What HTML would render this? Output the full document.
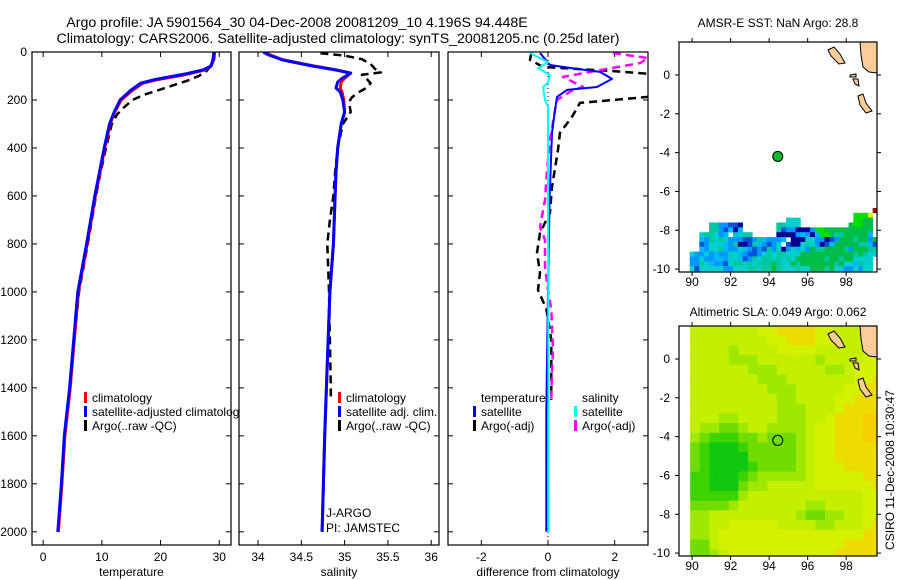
<!DOCTYPE html>
<html><head><meta charset="utf-8">
<style>
html,body{margin:0;padding:0;background:#fff;}
svg{display:block;font-family:"Liberation Sans",sans-serif;}
</style></head>
<body>
<svg id="fig" width="900" height="580" viewBox="0 0 900 580" xmlns="http://www.w3.org/2000/svg">
<text x="297" y="27" font-size="14.2" text-anchor="middle">Argo profile: JA 5901564_30 04-Dec-2008 20081209_10 4.196S 94.448E</text>
<text x="338" y="43" font-size="14.2" text-anchor="middle">Climatology: CARS2006. Satellite-adjusted climatology: synTS_20081205.nc (0.25d later)</text>
<text x="778" y="27" font-size="12" text-anchor="middle">AMSR-E SST: NaN Argo: 28.8</text>
<text x="778" y="316" font-size="12" text-anchor="middle">Altimetric SLA: 0.049 Argo: 0.062</text>
<text transform="translate(894,470) rotate(-90)" font-size="12" text-anchor="middle">CSIRO 11-Dec-2008 10:30:47</text>
<g id="g"></g>
</svg>
<script>
// ---- data ----
const climDepthT=[0,30,60,75,90,100,115,130,160,200,250,300,400,500,600,800,1000,1200,1400,1600,1800,2000];
const climT=[29.2,29.1,28.6,27.5,25,23,19.5,17,15.2,13.3,12.2,11.4,10.5,9.7,8.9,7.5,6.0,5.3,4.6,3.7,3.2,2.6];
const satT=[29.1,29.0,28.5,27.2,24.5,22.3,19,16.6,14.9,13.1,12.1,11.3,10.4,9.6,8.8,7.4,5.9,5.2,4.5,3.6,3.1,2.5];
const argoDepthT=[5,30,60,80,100,120,140,160,180,200,230,260,300,400,500,600,800,1000,1200,1400,1450];
const argoT=[29.0,28.9,28.5,27.8,26.5,24.5,22,19.5,17,15.2,13.8,12.6,11.7,10.7,9.8,9.0,7.6,6.1,5.3,4.6,4.4];
const climDepthS=[0,12,33,58,75,88,110,125,150,167,200,250,300,400,500,600,800,1000,1400,1600,2000];
const climS=[34.08,34.14,34.29,34.64,34.91,35.07,35.0,34.96,34.95,34.97,34.99,35.0,34.96,34.92,34.9,34.89,34.87,34.83,34.79,34.77,34.74];
const satS=[34.06,34.12,34.28,34.62,34.9,35.07,34.97,34.92,34.9,34.95,34.98,35.0,34.96,34.92,34.9,34.89,34.87,34.83,34.79,34.77,34.74];
const argoDepthS=[5,15,30,50,70,85,95,110,130,150,170,190,210,250,300,400,500,600,700,800,900,1000,1200,1400,1450];
const argoS=[34.72,35.0,35.2,35.3,35.35,35.42,35.2,35.25,35.3,35.25,35.15,35.08,35.05,35.07,34.98,34.92,34.89,34.87,34.83,34.8,34.81,34.82,34.83,34.84,34.84];
const dSatTDepth=[4,54,65,83,112,146,158,187,242,337,600,1000,1500,2000];
const dSatT=[-0.24,0.06,0.6,1.56,1.92,1.47,0.57,0.27,0.21,0.12,0.05,0.0,-0.05,-0.05];
const dArgoTDepth=[5,33,62,80,96,120,180,187,212,270,337,408,562,670,754,837,920,992,1070,1200,1450];
const dArgoT=[-0.5,-0.54,-0.15,2.0,3.5,4,4,3.0,0.96,0.72,0.36,0.3,0.12,0.06,-0.24,-0.33,-0.24,-0.3,-0.05,0.1,0.1];
const dSatSDepth=[4,42,67,96,129,146,200,229,500,2000];
const dSatS=[-0.54,0.0,-0.3,0.06,0,-0.15,-0.09,0,0,0.02];
const dArgoSDepth=[4,25,46,83,104,146,158,200,242,367,492,617,729,783,896,992,1075,1242,1325,1450];
const dArgoS=[1.95,3.0,2.77,1.26,0.45,1.05,0.75,0.27,0.21,0.06,-0.03,-0.09,-0.24,-0.09,-0.09,0,0.1,0.15,0.12,0.1];
const depthTicks=[0,200,400,600,800,1000,1200,1400,1600,1800,2000];
const tTicks=[0,10,20,30];
const sTicks=[34,34.5,35,35.5,36];
const dTicks=[-2,0,2];
const lonTicks=[90,92,94,96,98];
const latTicks=[0,-2,-4,-6,-8,-10];
const argoLon=94.448, argoLat=-4.196;
// SST grid: 0.25 deg, starting lon 89.875, lat -6.85 downward
const sstRows=[
"......................................r",
"..................................GGGy",
"....................ccc...........GGgg",
"....ttbbmmd.......ttccc..........gGGgg",
"....ttbmldl.......tmbbdddbGGgggggggggg",
"..cttcbl.lctt.....ddddblbdlGGgttgggggl",
"..lbtctcbbbmmbtlbbbl.dddccbbdmbgggtggbg",
"..mbccclbtddmtlbmbc.mddctcbdmlgggggttlm",
"..lbcctlbbclbmbmtbcdbclcbgttggggtbgggtt",
"cbbcblbbcclbmmbctcttcccgggggggggggtgtcc",
"bbcbbllbcclmbtcttctctcggggggtggtggcccc",
"bbtclbbmcttctctttgtccgtgggggggtgccltcc",
"cmcccccbbcccttcttgtccctccgggtgccbbcbcc"];
// SLA grid: 0.5 deg, starting lon 89.9, lat 1.7 downward; digits = level
const slaRows=[
"44444445566665544455","44444444556665544455","44443444455554444455","44443334444443444455",
"44444433344444334555","44444443334444444556","44444444333444445566","44444444433444455666",
"44444444433344456666","44433444433344566677","43322344333345566677","32111223222345566677",
"21000122222345566666","21000022222345566666","21000012222345556666","11000123333345555566",
"11000233444445555556","11111344444444444455","22223444444433444455","33444444444322334455",
"33445555544443344456","33455555555555555566","22455555555555556666","22345555555555566666"];

const NS='http://www.w3.org/2000/svg';
const G=document.getElementById('g');
function el(tag,attrs,parent){const e=document.createElementNS(NS,tag);for(const k in attrs)e.setAttribute(k,attrs[k]);(parent||G).appendChild(e);return e;}
function txt(s,x,y,anchor,size,parent){const t=el('text',{x:x,y:y,'text-anchor':anchor||'start','font-size':size||12},parent);t.textContent=s;return t;}

const Y0=52,Y1=545,D0=0,D1=2055;
const yD=d=>Y0+(d-D0)/(D1-D0)*(Y1-Y0);
function panel(name,x0,x1,v0,v1,ticks,fmt,label){
  const g=el('g',{});
  
  
  const cp=el('clipPath',{id:'clip-'+name},g);el('rect',{x:x0,y:Y0,width:x1-x0,height:Y1-Y0},cp);
  el('rect',{x:x0,y:Y0,width:x1-x0,height:Y1-Y0,fill:'#fff',stroke:'none'},g);
  const sx=v=>x0+(v-v0)/(v1-v0)*(x1-x0);
  ticks.forEach(t=>{const x=sx(t);
    el('line',{x1:x,x2:x,y1:Y1,y2:Y1-5,stroke:'#000'},g);el('line',{x1:x,x2:x,y1:Y0,y2:Y0+5,stroke:'#000'},g);
    const l=txt(fmt(t),x,561,'middle',12,g);});
  depthTicks.forEach(d=>{const y=yD(d);
    el('line',{x1:x0,x2:x0+5,y1:y,y2:y,stroke:'#000'},g);el('line',{x1:x1,x2:x1-5,y1:y,y2:y,stroke:'#000'},g);});
  const xl=txt(label,(x0+x1)/2,576,'middle',12,g);
  
  
  const inner=el('g',{'clip-path':'url(#clip-'+name+')'},g);
  return {g,inner,sx,x0,x1};
}
function line(p,depths,vals,color,dash,w,name){
  const pts=depths.map((d,i)=>p.sx(vals[i]).toFixed(1)+','+yD(d).toFixed(1)).join(' ');
  const pl=el('polyline',{points:pts,fill:'none',stroke:color,'stroke-width':w||3,'stroke-dasharray':dash||'none','stroke-linejoin':'round'},p.inner);
  
  
}
function border(p){el('rect',{x:p.x0,y:Y0,width:p.x1-p.x0,height:Y1-Y0,fill:'none',stroke:'#000','stroke-width':1.2},p.g);}
function legend(p,x,y,color,label,name){
  const r=el('rect',{x:x,y:y-10,width:3,height:11,fill:color},p.g);
  
  
  const t=txt(label,x+8,y,'start',12,p.g);
  
  
}

// Panel 1: temperature
const p1=panel('temperature-panel',32,231,-1.9,32,tTicks,String,'temperature');
depthTicks.forEach(d=>{const l=txt(String(d),27,yD(d)+4,'end',12);});
line(p1,argoDepthT,argoT,'#000','8,5',2.5,'argo-temperature-line');
line(p1,climDepthT,climT,'#f00',null,3,'climatology-temperature-line');
line(p1,climDepthT,satT,'#00f',null,3,'satellite-temperature-line');
legend(p1,84,402,'#f00','climatology','legend-climatology');
legend(p1,84,416,'#00f','satellite-adjusted climatology','legend-satellite-adjusted');
legend(p1,84,430,'#000','Argo(..raw -QC)','legend-argo');
border(p1);

// Panel 2: salinity
const p2=panel('salinity-panel',239,439,33.78,36.09,sTicks,String,'salinity');
line(p2,argoDepthS,argoS,'#000','8,5',2.5,'argo-salinity-line');
line(p2,climDepthS,climS,'#f00',null,3,'climatology-salinity-line');
line(p2,climDepthS,satS,'#00f',null,3,'satellite-salinity-line');
legend(p2,338,402,'#f00','climatology','legend-s-climatology');
legend(p2,338,416,'#00f','satellite adj. clim.','legend-s-satellite');
legend(p2,338,430,'#000','Argo(..raw -QC)','legend-s-argo');
const ja=txt('J-ARGO',326,517,'start',12,p2.g);
const pi=txt('PI: JAMSTEC',326,532,'start',12,p2.g);
border(p2);

// Panel 3: difference
const p3=panel('difference-panel',448,648,-3,3,dTicks,String,'difference from climatology');
el('line',{x1:p3.sx(0),x2:p3.sx(0),y1:Y0,y2:Y1,stroke:'#000','stroke-dasharray':'1,3'},p3.inner);
line(p3,dArgoTDepth,dArgoT,'#000','8,5',2.5,'argo-temperature-diff-line');
line(p3,dArgoSDepth,dArgoS,'#f0f','8,5',2.5,'argo-salinity-diff-line');
line(p3,dSatTDepth,dSatT,'#00f',null,2,'satellite-temperature-diff-line');
line(p3,dSatSDepth,dSatS,'#0ff',null,2,'satellite-salinity-diff-line');
const lt=txt('temperature',481,402,'start',12,p3.g);
const ls=txt('salinity',582,402,'start',12,p3.g);
legend(p3,473,416,'#00f','satellite','legend-d-sat-temp');
legend(p3,473,430,'#000','Argo(-adj)','legend-d-argo-temp');
legend(p3,574,416,'#0ff','satellite','legend-d-sat-sal');
legend(p3,574,430,'#f0f','Argo(-adj)','legend-d-argo-sal');
border(p3);

// Maps
const MX0=679,MX1=877,LON0=89.32,LON1=99.6,LAT0=1.7,LAT1=-10.15;
function map(name,top){
  const bot=top+230;
  const g=el('g',{});
  
  
  const sx=l=>MX0+(l-LON0)/(LON1-LON0)*(MX1-MX0);
  const sy=l=>top+(LAT0-l)/(LAT0-LAT1)*(bot-top);
  const cp=el('clipPath',{id:'clip-'+name},g);el('rect',{x:MX0,y:top,width:MX1-MX0,height:bot-top},cp);
  const inner=el('g',{'clip-path':'url(#clip-'+name+')'},g);
  return {g,inner,sx,sy,top,bot};
}
function mapFrame(m){
  lonTicks.forEach(l=>{const x=m.sx(l);
    el('line',{x1:x,x2:x,y1:m.top,y2:m.top-4,stroke:'#000'},m.g);el('line',{x1:x,x2:x,y1:m.bot,y2:m.bot+4,stroke:'#000'},m.g);
    const t=txt(String(l),x,m.bot+14,'middle',12,m.g);});
  latTicks.forEach(l=>{const y=m.sy(l);
    el('line',{x1:MX0,x2:MX0-4,y1:y,y2:y,stroke:'#000'},m.g);el('line',{x1:MX1,x2:MX1+4,y1:y,y2:y,stroke:'#000'},m.g);
    const t=txt(String(l),670,y+4,'end',12,m.g);});
  el('rect',{x:MX0,y:m.top,width:MX1-MX0,height:m.bot-m.top,fill:'none',stroke:'#000','stroke-width':1.2},m.g);
}
function land(m){
  const dy=m.top-42;
  const polys=[[[860,42],[877,42],[877,73],[869,72],[863,67],[861,55]],
    [[828,50],[834,47],[840,54],[845,63],[839,64],[831,56]],
    [[858,96],[863,94],[866,103],[872,111],[866,113],[860,105]],
    [[850,75],[856,74],[856,77],[850,77]],[[853,79],[858,79],[859,86],[855,84]]];
  polys.forEach(p=>{const s=el('polygon',{points:p.map(q=>q[0]+','+(q[1]+dy)).join(' '),fill:'#fccc98',stroke:'#000','stroke-width':1},m.inner);
    
    });
}
const sstCol={c:'#00d0cc',b:'#0098ff',l:'#00b8f4',m:'#0050d8',d:'#000090',t:'#00c8a0',g:'#00bc48',G:'#00e000',k:'#00c868',y:'#d8f000',r:'#a00000'};
const m1=map('sst-map',42);
sstRows.forEach((row,ri)=>{for(let ci=0;ci<row.length;ci++){const ch=row[ci];if(!sstCol[ch])continue;
  const lon=89.875+ci*0.25,lat=-6.85-ri*0.25;
  const r=el('rect',{x:m1.sx(lon),y:m1.sy(lat),width:m1.sx(lon+0.25)-m1.sx(lon)+0.3,height:m1.sy(lat-0.25)-m1.sy(lat)+0.3,fill:sstCol[ch]},m1.inner);
  
  }});
land(m1);
const dot=el('circle',{cx:m1.sx(argoLon),cy:m1.sy(argoLat),r:5,fill:'#00c030',stroke:'#000'},m1.g);


mapFrame(m1);

const slaCol=['#10c810','#3cd400','#70dc00','#a0e800','#c4f000','#d4f200','#ecdc00','#f4d000'];
const m2=map('sla-map',326);
slaRows.forEach((row,ri)=>{for(let ci=0;ci<row.length;ci++){const v=+row[ci];
  const lon=89.9+ci*0.5,lat=1.7-ri*0.5;
  const r=el('rect',{x:m2.sx(lon),y:m2.sy(lat),width:m2.sx(lon+0.5)-m2.sx(lon)+0.3,height:m2.sy(lat-0.5)-m2.sy(lat)+0.3,fill:slaCol[v]},m2.inner);
  
  }});
land(m2);
const ring=el('circle',{cx:m2.sx(argoLon),cy:m2.sy(argoLat),r:5,fill:'none',stroke:'#000'},m2.g);


mapFrame(m2);
</script>
</body></html>
